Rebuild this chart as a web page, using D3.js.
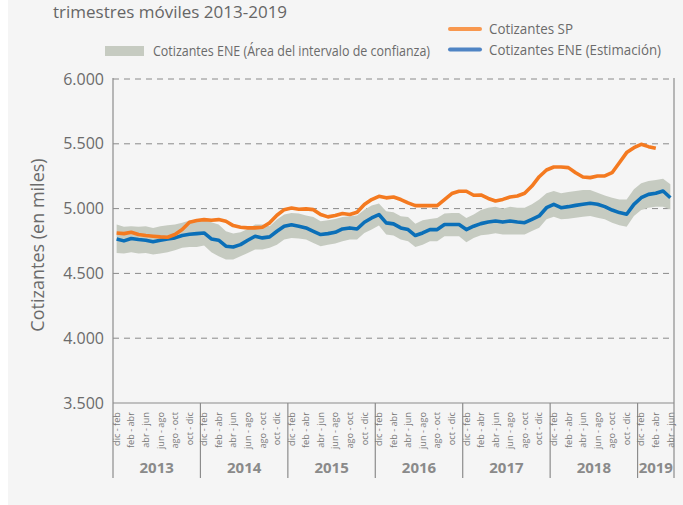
<!DOCTYPE html>
<head>
    <meta charset="utf-8">
    <title>Cotizantes SP y ENE</title>
    <script src="https://cdn.jsdelivr.net/npm/d3@7"></script>
    <style>
      body { margin: 0; background: #fff; }
      svg { display: block; font-family: "Open Sans", "Noto Sans", sans-serif; }
    </style>
</head>
<body>
<div id="container"></div>
<script>

// Trimestres móviles (cada punto = un mes)
const anios = ["2013", "2014", "2015", "2016", "2017", "2018", "2019"];
const mesesPorAnio = [12, 12, 12, 12, 12, 12, 5];
const trimestres = ["dic - feb", "ene - mar", "feb - abr", "mar - may", "abr - jun", "may - jul",
                    "jun - ago", "jul - sep", "ago - oct", "sep - nov", "oct - dic", "nov - ene"];

// Cotizantes SP (en miles)
const cotizantesSP = [
  4812, 4807, 4817, 4800, 4792, 4787, 4782, 4779, 4800, 4838, 4895, 4908,
  4915, 4910, 4915, 4902, 4869, 4856, 4851, 4851, 4856, 4890, 4949, 4992,
  5005, 4995, 4998, 4992, 4954, 4936, 4946, 4962, 4954, 4972, 5031, 5070,
  5095, 5083, 5090, 5070, 5044, 5023, 5023, 5023, 5023, 5070, 5116, 5134,
  5134, 5103, 5105, 5078, 5059, 5071, 5089, 5097, 5118, 5174, 5246, 5298,
  5321, 5321, 5316, 5277, 5244, 5239, 5252, 5252, 5277, 5354, 5432, 5470,
  5496, 5478, 5465
];

// Cotizantes ENE, estimación
const cotizantesENE = [
  4766, 4751, 4769, 4761, 4756, 4745, 4756, 4766, 4774, 4792, 4802, 4807,
  4812, 4766, 4756, 4710, 4704, 4722, 4756, 4787, 4774, 4782, 4825, 4864,
  4875, 4864, 4851, 4825, 4800, 4807, 4817, 4843, 4851, 4843, 4895, 4928,
  4954, 4890, 4882, 4851, 4838, 4792, 4812, 4838, 4838, 4877, 4877, 4877,
  4838, 4864, 4884, 4896, 4904, 4896, 4904, 4896, 4891, 4917, 4943, 5007,
  5033, 5007, 5015, 5025, 5033, 5041, 5033, 5015, 4989, 4969, 4956, 5033,
  5084, 5110, 5118, 5136, 5084
];

// Intervalo de confianza ENE (límite superior / inferior)
const eneSuperior = [
  4877, 4859, 4864, 4859, 4864, 4851, 4864, 4872, 4877, 4890, 4908, 4915,
  4915, 4895, 4877, 4825, 4807, 4817, 4843, 4877, 4877, 4864, 4915, 4954,
  4967, 4962, 4946, 4936, 4902, 4910, 4920, 4936, 4941, 4946, 4992, 5023,
  5039, 4980, 4972, 4941, 4936, 4884, 4910, 4920, 4928, 4962, 4967, 4967,
  4928, 4954, 4990, 5007, 5015, 4999, 5015, 5007, 5007, 5033, 5071, 5118,
  5136, 5118, 5128, 5136, 5143, 5143, 5123, 5102, 5084, 5071, 5071, 5149,
  5195, 5213, 5221, 5231, 5187
];
const eneInferior = [
  4658, 4653, 4663, 4653, 4658, 4645, 4653, 4663, 4679, 4697, 4704, 4704,
  4715, 4663, 4632, 4607, 4607, 4632, 4658, 4684, 4684, 4697, 4722, 4761,
  4774, 4770, 4761, 4735, 4710, 4722, 4730, 4748, 4761, 4761, 4812, 4838,
  4869, 4800, 4792, 4761, 4748, 4704, 4722, 4748, 4748, 4787, 4787, 4787,
  4740, 4774, 4795, 4801, 4809, 4801, 4801, 4801, 4801, 4827, 4853, 4917,
  4938, 4917, 4922, 4930, 4938, 4943, 4930, 4917, 4891, 4871, 4860, 4943,
  4989, 5007, 5015, 5015, 4994
];

const yTicks = [3500, 4000, 4500, 5000, 5500, 6000];

// Construir la lista de categorías (año + trimestre móvil)
let categorias = [];
anios.forEach((anio, k) => {
  for (let m = 0; m < mesesPorAnio[k]; m++) {
    categorias.push({ anio, trimestre: trimestres[m], mes: m, idx: categorias.length });
  }
});

const width = 683;
const height = 505;
const plotLeft = 113, plotRight = 674, plotTop = 79, plotBottom = 403;

const svg = d3.select("#container")
  .append("svg")
  .attr("width", width)
  .attr("height", height);

// Fondo gris claro
svg.append("rect")
  .attr("x", 8).attr("y", 0)
  .attr("width", width - 8).attr("height", height)
  .attr("fill", "#f5f5f5");

// Escalas
const x = d3.scaleBand()
  .domain(categorias.map(d => d.idx))
  .range([plotLeft, plotRight])
  .paddingInner(0);

const y = d3.scaleLinear()
  .domain([3500, 6000])
  .range([plotBottom, plotTop]);

const cx = i => x(i) + x.bandwidth() / 2;

// Líneas de grilla discontinuas
svg.append("g")
  .selectAll("line")
  .data(yTicks.filter(t => t > 3500))
  .enter().append("line")
  .attr("x1", plotLeft).attr("x2", plotRight - 4)
  .attr("y1", d => y(d)).attr("y2", d => y(d))
  .attr("stroke", "#8a8a8a")
  .attr("stroke-width", 1)
  .attr("stroke-dasharray", "6,5");

// Eje Y (solo etiquetas)
const yAxis = svg.append("g")
  .attr("transform", `translate(${plotLeft},0)`)
  .call(d3.axisLeft(y).tickValues(yTicks).tickSize(0).tickPadding(9)
    .tickFormat(d => d3.format(",")(d).replace(",", ".")));
yAxis.select(".domain").remove();
yAxis.selectAll("text")
  .attr("fill", "#6b6b6b")
  .style("font-size", "16px")
  .style("font-family", "'Open Sans', sans-serif");

svg.append("text")
  .attr("transform", `translate(44,${(plotTop + plotBottom) / 2 + 4}) rotate(-90)`)
  .attr("text-anchor", "middle")
  .attr("fill", "#6b6b6b")
  .style("font-size", "18px")
  .text("Cotizantes (en miles)");

// Banda del intervalo de confianza
const area = d3.area()
  .x((d, i) => cx(i))
  .y0((d, i) => y(eneInferior[i]))
  .y1(d => y(d));

svg.append("path")
  .attr("d", area(eneSuperior))
  .attr("fill", "#c6cbc1");

// Líneas
const line = d3.line()
  .x((d, i) => cx(i))
  .y(d => y(d));

svg.append("path")
  .attr("d", line(cotizantesENE))
  .attr("fill", "none")
  .attr("stroke", "#0b6fb8")
  .attr("stroke-width", 3.6)
  .attr("stroke-linejoin", "round");

svg.append("path")
  .attr("d", line(cotizantesSP))
  .attr("fill", "none")
  .attr("stroke", "#f47a20")
  .attr("stroke-width", 3.6)
  .attr("stroke-linejoin", "round");

// Marco y ejes
const frame = svg.append("g").attr("stroke", "#8c8c8c").attr("stroke-width", 1.2);
frame.append("line").attr("x1", plotLeft).attr("x2", plotRight).attr("y1", plotBottom).attr("y2", plotBottom);
frame.append("line").attr("x1", plotLeft).attr("x2", plotLeft).attr("y1", plotTop - 1).attr("y2", 478);
frame.append("line").attr("x1", plotRight).attr("x2", plotRight).attr("y1", plotTop - 1).attr("y2", 478);

// Separadores de año
const iniciosAnio = categorias.filter(d => d.mes === 0 && d.idx > 0);
frame.selectAll(".sep")
  .data(iniciosAnio)
  .enter().append("line")
  .attr("class", "sep")
  .attr("x1", d => x(d.idx)).attr("x2", d => x(d.idx))
  .attr("y1", plotBottom).attr("y2", 478);

// Etiquetas de trimestre (uno de cada dos)
svg.append("g")
  .selectAll("text")
  .data(categorias.filter(d => d.mes % 2 === 0))
  .enter().append("text")
  .attr("transform", d => `translate(${cx(d.idx) + 3.2},${plotBottom + 9}) rotate(-90)`)
  .attr("text-anchor", "end")
  .attr("fill", "#7a7a7a")
  .style("font-size", "9.2px")
  .text(d => d.trimestre);

// Etiquetas de año
svg.append("g")
  .selectAll("text")
  .data(anios)
  .enter().append("text")
  .attr("x", a => {
    const cs = categorias.filter(d => d.anio === a);
    return (x(cs[0].idx) + x(cs[cs.length - 1].idx) + x.bandwidth()) / 2;
  })
  .attr("y", 473)
  .attr("text-anchor", "middle")
  .attr("fill", "#8a8a8a")
  .style("font-size", "15px")
  .style("font-weight", "bold")
  .text(a => a);

// Subtítulo
svg.append("text")
  .attr("x", 53).attr("y", 18)
  .attr("fill", "#666")
  .style("font-size", "17px")
  .text("trimestres móviles 2013-2019");

// Leyenda
const leyenda = svg.append("g").style("font-size", "14px").attr("fill", "#6b6b6b");

leyenda.append("rect")
  .attr("x", 105).attr("y", 46).attr("width", 39).attr("height", 10)
  .attr("fill", "#c6cbc1");
leyenda.append("text")
  .attr("x", 153).attr("y", 55.5)
  .attr("textLength", 277).attr("lengthAdjust", "spacingAndGlyphs")
  .text("Cotizantes ENE (Área del intervalo de confianza)");

leyenda.append("line")
  .attr("x1", 450).attr("x2", 480).attr("y1", 29).attr("y2", 29)
  .attr("stroke", "#f8984f").attr("stroke-width", 4).attr("stroke-linecap", "round");
leyenda.append("text")
  .attr("x", 489).attr("y", 34)
  .attr("textLength", 84).attr("lengthAdjust", "spacingAndGlyphs")
  .text("Cotizantes SP");

leyenda.append("line")
  .attr("x1", 450).attr("x2", 480).attr("y1", 49.5).attr("y2", 49.5)
  .attr("stroke", "#4f84c4").attr("stroke-width", 4).attr("stroke-linecap", "round");
leyenda.append("text")
  .attr("x", 489).attr("y", 55)
  .attr("textLength", 172).attr("lengthAdjust", "spacingAndGlyphs")
  .text("Cotizantes ENE (Estimación)");

</script>
</body>
